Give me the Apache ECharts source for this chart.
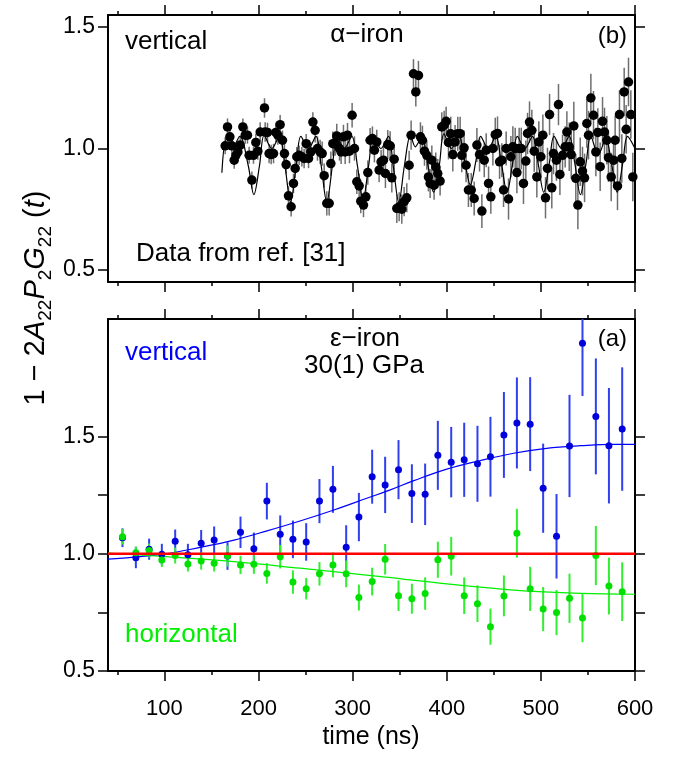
<!DOCTYPE html>
<html><head><meta charset="utf-8">
<script src="https://cdn.jsdelivr.net/npm/echarts@6/dist/echarts.min.js"></script>
<style>html,body{margin:0;padding:0;background:#fff}#c{width:681px;height:766px}</style>
</head><body><div id="c"></div>
<script>
// ---------- axis ticks ----------
const xMajorTicks = [100, 200, 300, 400, 500, 600];
const xMinorTicks = [50, 150, 250, 350, 450, 550];
const yTopTicks = [0.5, 1.0, 1.5];
const yBotTicks = [0.5, 0.75, 1.0, 1.25, 1.5];
const yBotLabels = [0.5, 1.0, 1.5];

// ---------- panel (b): alpha-iron ----------
const topTime = [164.5,167.0,169.5,171.6,174.1,175.9,178.0,180.5,183.3,185.8,188.2,190.0,192.9,194.6,197.1,199.2,201.7,206.3,207.0,209.5,211.2,213.4,215.9,218.3,220.5,222.9,225.4,227.5,229.3,231.8,234.6,237.1,238.9,240.6,243.1,246.0,248.4,250.6,253.1,255.5,257.7,260.1,262.6,265.4,267.6,269.7,272.5,275.0,276.8,278.9,281.4,283.1,286.0,287.7,290.2,292.0,294.5,296.6,299.4,301.9,304.4,306.9,308.6,311.5,314.0,316.1,318.5,321.0,323.1,325.6,328.1,330.2,332.7,334.8,337.3,339.8,341.6,344.1,346.9,349.4,352.2,354.7,357.5,360.0,362.1,364.6,367.1,369.9,372.0,374.1,376.3,378.8,380.5,382.3,384.1,386.5,388.3,390.4,392.9,394.7,397.2,399.3,401.8,404.2,406.4,408.8,411.7,414.2,415.9,418.4,420.5,423.0,426.0,429.1,432.0,434.8,437.3,439.8,441.9,444.4,446.8,449.0,451.5,453.9,456.1,458.5,460.3,463.1,465.6,468.1,470.2,472.7,474.5,476.9,479.1,481.5,484.0,485.8,487.9,490.4,492.9,495.7,497.8,500.0,502.1,504.9,507.0,509.2,511.6,513.4,516.5,518.7,520.2,523.0,525.8,527.6,530.1,532.2,535.0,537.1,539.3,541.8,544.2,546.4,548.8,550.6,553.1,555.9,558.4,560.5,563.0,565.5,567.6,570.1,571.8,574.7,577.2,578.9,581.4,583.5,586.0,588.5,590.6,593.1,595.6,597.7];
const topValue = [1.011,1.089,1.048,1.011,0.952,0.972,0.986,1.014,1.089,1.055,1.055,0.972,0.870,0.972,1.025,0.989,1.068,1.167,1.068,1.066,0.979,0.975,0.979,1.066,1.055,1.098,1.034,0.979,0.934,0.805,0.760,0.856,0.918,0.966,0.972,0.966,0.959,1.020,0.959,0.986,1.109,1.075,1.000,0.986,0.979,0.888,0.774,0.774,0.938,1.020,1.020,1.052,1.000,0.986,1.048,0.986,1.055,0.989,1.137,1.000,0.863,0.846,0.783,0.767,0.801,0.901,1.034,1.041,0.993,1.027,0.911,0.945,0.952,0.897,1.016,1.011,0.879,0.956,0.753,0.760,0.750,0.781,0.797,0.931,1.055,1.308,1.233,1.301,1.048,1.034,0.989,0.972,0.883,0.856,0.952,0.849,0.924,0.897,0.866,1.089,1.096,1.112,1.025,1.061,0.975,1.027,1.061,1.061,0.972,1.003,0.931,0.829,0.829,0.794,1.014,0.975,0.742,0.952,0.993,0.856,0.801,1.000,1.057,1.062,0.945,0.952,0.829,1.000,0.792,0.966,1.007,1.000,0.901,1.000,1.000,0.856,0.948,1.062,1.109,1.075,0.989,0.883,1.027,0.966,1.055,0.797,0.918,1.140,0.838,0.979,0.952,1.181,0.893,0.972,1.007,1.068,1.007,0.975,1.093,0.877,0.767,0.945,0.907,0.879,1.103,1.055,1.208,1.137,0.986,1.066,0.925,1.112,1.068,1.034,0.962,0.883,0.952,1.034,0.846,1.140,0.959,1.233,1.079,1.274,1.140,0.883];
const topError = [0.035,0.035,0.035,0.035,0.035,0.035,0.035,0.035,0.035,0.035,0.035,0.035,0.035,0.035,0.035,0.035,0.04,0.04,0.04,0.04,0.04,0.04,0.04,0.04,0.04,0.04,0.04,0.04,0.04,0.04,0.04,0.04,0.04,0.04,0.04,0.04,0.04,0.04,0.04,0.04,0.04,0.05,0.05,0.05,0.05,0.05,0.05,0.05,0.05,0.05,0.05,0.05,0.05,0.05,0.05,0.05,0.05,0.05,0.05,0.05,0.05,0.05,0.05,0.05,0.05,0.05,0.05,0.05,0.05,0.05,0.05,0.05,0.06,0.06,0.06,0.06,0.06,0.06,0.06,0.06,0.06,0.06,0.06,0.06,0.06,0.06,0.06,0.06,0.06,0.06,0.06,0.06,0.06,0.06,0.06,0.06,0.06,0.06,0.06,0.06,0.06,0.06,0.07,0.07,0.07,0.07,0.07,0.07,0.07,0.07,0.07,0.07,0.07,0.07,0.07,0.07,0.07,0.07,0.07,0.07,0.07,0.07,0.07,0.07,0.07,0.07,0.07,0.07,0.085,0.085,0.085,0.085,0.085,0.085,0.085,0.085,0.085,0.085,0.085,0.085,0.085,0.085,0.085,0.085,0.085,0.085,0.085,0.085,0.085,0.085,0.085,0.085,0.085,0.085,0.085,0.085,0.10,0.10,0.10,0.10,0.10,0.10,0.10,0.10,0.10,0.10,0.10,0.10,0.10,0.10,0.10,0.10,0.10,0.10,0.10,0.10,0.10,0.10,0.10,0.10,0.10,0.10,0.10,0.10,0.10,0.10,0.10,0.10,0.10,0.10,0.10,0.10];
const topFitTime = [161,166,172,180,189,195,201,206,214,222,228,234,240,245,253,261,266.5,272.5,278.5,283.5,291,299,305,311,317,322,330,338,343,349,355,361.5,366.5,373.5,380,386,392,397,405,413,419,425,431,436,444,452,458,464,470,475,483,491,497,503,509,514,522,530,536,542,548,553,561,569,575,581,587,592,600];
const topFitValue = [0.90,1.04,1.00,1.05,0.93,0.81,0.93,1.055,1.00,1.05,0.93,0.78,0.93,1.05,1.00,1.05,0.93,0.78,0.93,1.05,1.00,1.05,0.93,0.79,0.93,1.05,1.00,1.05,0.93,0.78,0.93,1.055,1.007,1.048,0.93,0.82,0.93,1.06,1.00,1.05,0.95,0.85,0.95,1.05,1.00,1.05,0.94,0.82,0.94,1.05,1.00,1.05,0.94,0.82,0.94,1.05,1.00,1.05,0.94,0.81,0.94,1.05,0.975,1.04,0.94,0.82,0.94,1.05,1.00];

// ---------- panel (a): epsilon-iron, 30(1) GPa ----------
const botTime = [55.4,69.6,83.7,97.2,111.4,124.9,139.0,152.8,167.0,180.8,195.0,208.8,223.0,236.5,250.6,264.7,279.0,293.1,306.6,320.7,334.5,348.7,362.9,377.0,390.5,404.7,418.5,432.6,446.4,460.7,474.5,488.6,502.4,516.6,530.4,544.2,558.4,572.3,586.4];
const vertValue = [1.068,0.983,1.019,0.997,1.053,0.995,1.044,1.058,0.990,1.091,1.021,1.224,1.083,1.061,1.050,1.224,1.274,1.027,1.156,1.328,1.293,1.358,1.256,1.253,1.419,1.390,1.400,1.383,1.413,1.506,1.557,1.552,1.279,1.074,1.459,1.897,1.585,1.460,1.531];
const vertError = [0.040,0.045,0.045,0.045,0.050,0.047,0.057,0.058,0.059,0.067,0.069,0.078,0.080,0.080,0.080,0.094,0.100,0.094,0.103,0.115,0.120,0.126,0.125,0.131,0.147,0.150,0.158,0.162,0.170,0.183,0.194,0.200,0.190,0.180,0.218,0.225,0.247,0.246,0.263];
const horValue = [1.072,1.004,1.013,0.973,0.992,0.956,0.969,0.959,0.990,0.952,0.955,0.916,0.987,0.879,0.851,0.914,0.952,0.914,0.813,0.881,0.976,0.821,0.808,0.830,0.974,0.989,0.821,0.787,0.689,0.820,1.087,0.850,0.764,0.749,0.810,0.726,0.992,0.862,0.838];
const horError = [0.033,0.027,0.030,0.030,0.034,0.032,0.037,0.035,0.045,0.039,0.041,0.044,0.050,0.050,0.046,0.050,0.053,0.057,0.055,0.059,0.065,0.065,0.064,0.069,0.077,0.082,0.078,0.078,0.077,0.087,0.104,0.094,0.094,0.096,0.105,0.103,0.126,0.121,0.125];
const vertFitTime = [40,97,138,174,209,244,280,315,340,365,400,435,471,506,542,577,600];
const vertFitValue = [0.977,0.997,1.027,1.058,1.097,1.139,1.186,1.236,1.272,1.311,1.360,1.396,1.428,1.449,1.460,1.466,1.466];
const horFitTime = [40,102,174,244,335,400,471,542,600];
const horFitValue = [1.002,0.987,0.966,0.938,0.900,0.871,0.845,0.831,0.827];
const refLineTime = [40, 600];
const refLineValue = [1.0, 1.0];

// ---------- helpers ----------
const FONT = 'Liberation Sans';
const zip = (a, b) => a.map((x, i) => [x, b[i]]);
const zip3 = (a, b, c) => a.map((x, i) => [x, b[i], c[i]]);

function xAxisDef(grid, pos, ticks, len, showLine, labels) {
  return {
    type: 'value', gridIndex: grid, position: pos, min: 40, max: 600,
    axisLine: { show: showLine, onZero: false, lineStyle: { color: '#000', width: 2 } },
    axisTick: { show: true, inside: false, length: len, customValues: ticks, lineStyle: { color: '#000', width: 1.5 } },
    axisLabel: labels ? { show: true, customValues: labels, margin: 27, color: '#000', fontSize: 22, fontFamily: FONT } : { show: false },
    splitLine: { show: false }
  };
}
function yAxisDef(grid, pos, min, max, ticks, labels) {
  return {
    type: 'value', gridIndex: grid, position: pos, min: min, max: max,
    axisLine: { show: true, onZero: false, lineStyle: { color: '#000', width: 2 } },
    axisTick: { show: true, inside: false, length: 10, customValues: ticks, lineStyle: { color: '#000', width: 1.5 } },
    axisLabel: labels ? { show: true, customValues: labels, margin: 13, color: '#000', fontSize: 23, fontFamily: FONT, formatter: v => v.toFixed(1) } : { show: false },
    splitLine: { show: false }
  };
}
function errSeries(t, v, e, color, width, xi, yi) {
  return {
    type: 'custom', xAxisIndex: xi, yAxisIndex: yi, clip: true, silent: true, z: 2,
    data: zip3(t, v, e), encode: { x: 0, y: 1 },
    renderItem: (params, api) => {
      const x = api.value(0), y = api.value(1), d = api.value(2);
      const a = api.coord([x, y - d]), b = api.coord([x, y + d]);
      return { type: 'line', shape: { x1: a[0], y1: a[1], x2: b[0], y2: b[1] }, style: { stroke: color, lineWidth: width } };
    }
  };
}
function txt(x, y, text, color, align, size) {
  return { type: 'text', x: x, y: y, z: 100,
    style: { text: text, fill: color, font: (size || 26) + 'px "' + FONT + '"', align: align, textAlign: align, verticalAlign: 'middle', textVerticalAlign: 'middle' } };
}

const BLUE = '#0000ff', GREEN = '#00ee00';

const option = {
  animation: false,
  backgroundColor: '#fff',
  grid: [
    { left: 108, top: 15, width: 527, height: 267 },
    { left: 108, top: 319, width: 527, height: 352 }
  ],
  xAxis: [
    xAxisDef(0, 'bottom', xMajorTicks, 10, true, null),
    xAxisDef(0, 'bottom', xMinorTicks, 4, false, null),
    xAxisDef(0, 'top', xMajorTicks, 10, true, null),
    xAxisDef(0, 'top', xMinorTicks, 4, false, null),
    xAxisDef(1, 'bottom', xMajorTicks, 10, true, xMajorTicks),
    xAxisDef(1, 'bottom', xMinorTicks, 4, false, null),
    xAxisDef(1, 'top', xMajorTicks, 10, true, null),
    xAxisDef(1, 'top', xMinorTicks, 4, false, null)
  ],
  yAxis: [
    yAxisDef(0, 'left', 0.45, 1.55, yTopTicks, yTopTicks),
    yAxisDef(0, 'right', 0.45, 1.55, yTopTicks, null),
    yAxisDef(1, 'left', 0.5, 2.0, yBotTicks, yBotLabels),
    yAxisDef(1, 'right', 0.5, 2.0, yBotTicks, null)
  ],
  series: [
    // panel (b)
    { type: 'line', xAxisIndex: 0, yAxisIndex: 0, data: zip(topFitTime, topFitValue), smooth: 0.35,
      showSymbol: false, lineStyle: { color: '#000', width: 1.2 }, z: 3, silent: true },
    errSeries(topTime, topValue, topError, '#6e6e6e', 1.5, 0, 0),
    { type: 'scatter', xAxisIndex: 0, yAxisIndex: 0, data: zip(topTime, topValue), symbol: 'circle', symbolSize: 9.5,
      itemStyle: { color: '#000', opacity: 1 }, z: 4, silent: true },
    // panel (a)
    { type: 'line', xAxisIndex: 4, yAxisIndex: 2, data: zip(vertFitTime, vertFitValue), smooth: 0.4,
      showSymbol: false, lineStyle: { color: BLUE, width: 1.2 }, z: 3, silent: true },
    { type: 'line', xAxisIndex: 4, yAxisIndex: 2, data: zip(horFitTime, horFitValue), smooth: 0.4,
      showSymbol: false, lineStyle: { color: GREEN, width: 1.2 }, z: 3, silent: true },
    errSeries(botTime, vertValue, vertError, '#3040f0', 2, 4, 2),
    { type: 'scatter', xAxisIndex: 4, yAxisIndex: 2, data: zip(botTime, vertValue), symbol: 'circle', symbolSize: 7,
      itemStyle: { color: '#0000dd', opacity: 1 }, z: 4, silent: true },
    errSeries(botTime, horValue, horError, '#30ee30', 2, 4, 2),
    { type: 'scatter', xAxisIndex: 4, yAxisIndex: 2, data: zip(botTime, horValue), symbol: 'circle', symbolSize: 7,
      itemStyle: { color: '#00e000', opacity: 1 }, z: 4, silent: true },
    { type: 'line', xAxisIndex: 4, yAxisIndex: 2, data: zip(refLineTime, refLineValue), showSymbol: false,
      lineStyle: { color: '#ff0000', width: 2.5 }, z: 5, silent: true }
  ],
  graphic: [
    txt(125, 42, 'vertical', '#000', 'left'),
    txt(367, 35, 'α−iron', '#000', 'center'),
    txt(627, 36, '(b)', '#000', 'right', 24),
    txt(136, 254, 'Data from ref. [31]', '#000', 'left'),
    txt(365, 339, 'ε−iron', '#000', 'center'),
    txt(364, 366, '30(1) GPa', '#000', 'center'),
    txt(125, 353, 'vertical', BLUE, 'left'),
    txt(627, 339, '(a)', '#000', 'right', 24),
    txt(125, 635, 'horizontal', GREEN, 'left'),
    txt(371, 737, 'time (ns)', '#000', 'center', 25),
    {
      type: 'text', x: 36, y: 298, rotation: Math.PI / 2, z: 100,
      style: {
        text: '{n|1 − 2}{i|A}{s|22}{i|P}{s|2}{i|G}{s|22}{n| (}{i|t}{n|)}',
        align: 'center', textAlign: 'center', verticalAlign: 'middle', textVerticalAlign: 'middle',
        fill: '#000',
        rich: {
          n: { fontSize: 29, fontFamily: FONT, lineHeight: 38, fill: '#000', color: '#000' },
          i: { fontSize: 29, fontFamily: FONT, fontStyle: 'italic', lineHeight: 38, fill: '#000', color: '#000' },
          s: { fontSize: 19, fontFamily: FONT, lineHeight: 19, verticalAlign: 'bottom', fill: '#000', color: '#000' }
        }
      }
    }
  ]
};

const chart = echarts.init(document.getElementById('c'), null, { renderer: 'canvas' });
chart.setOption(option);
</script>
</body></html>
